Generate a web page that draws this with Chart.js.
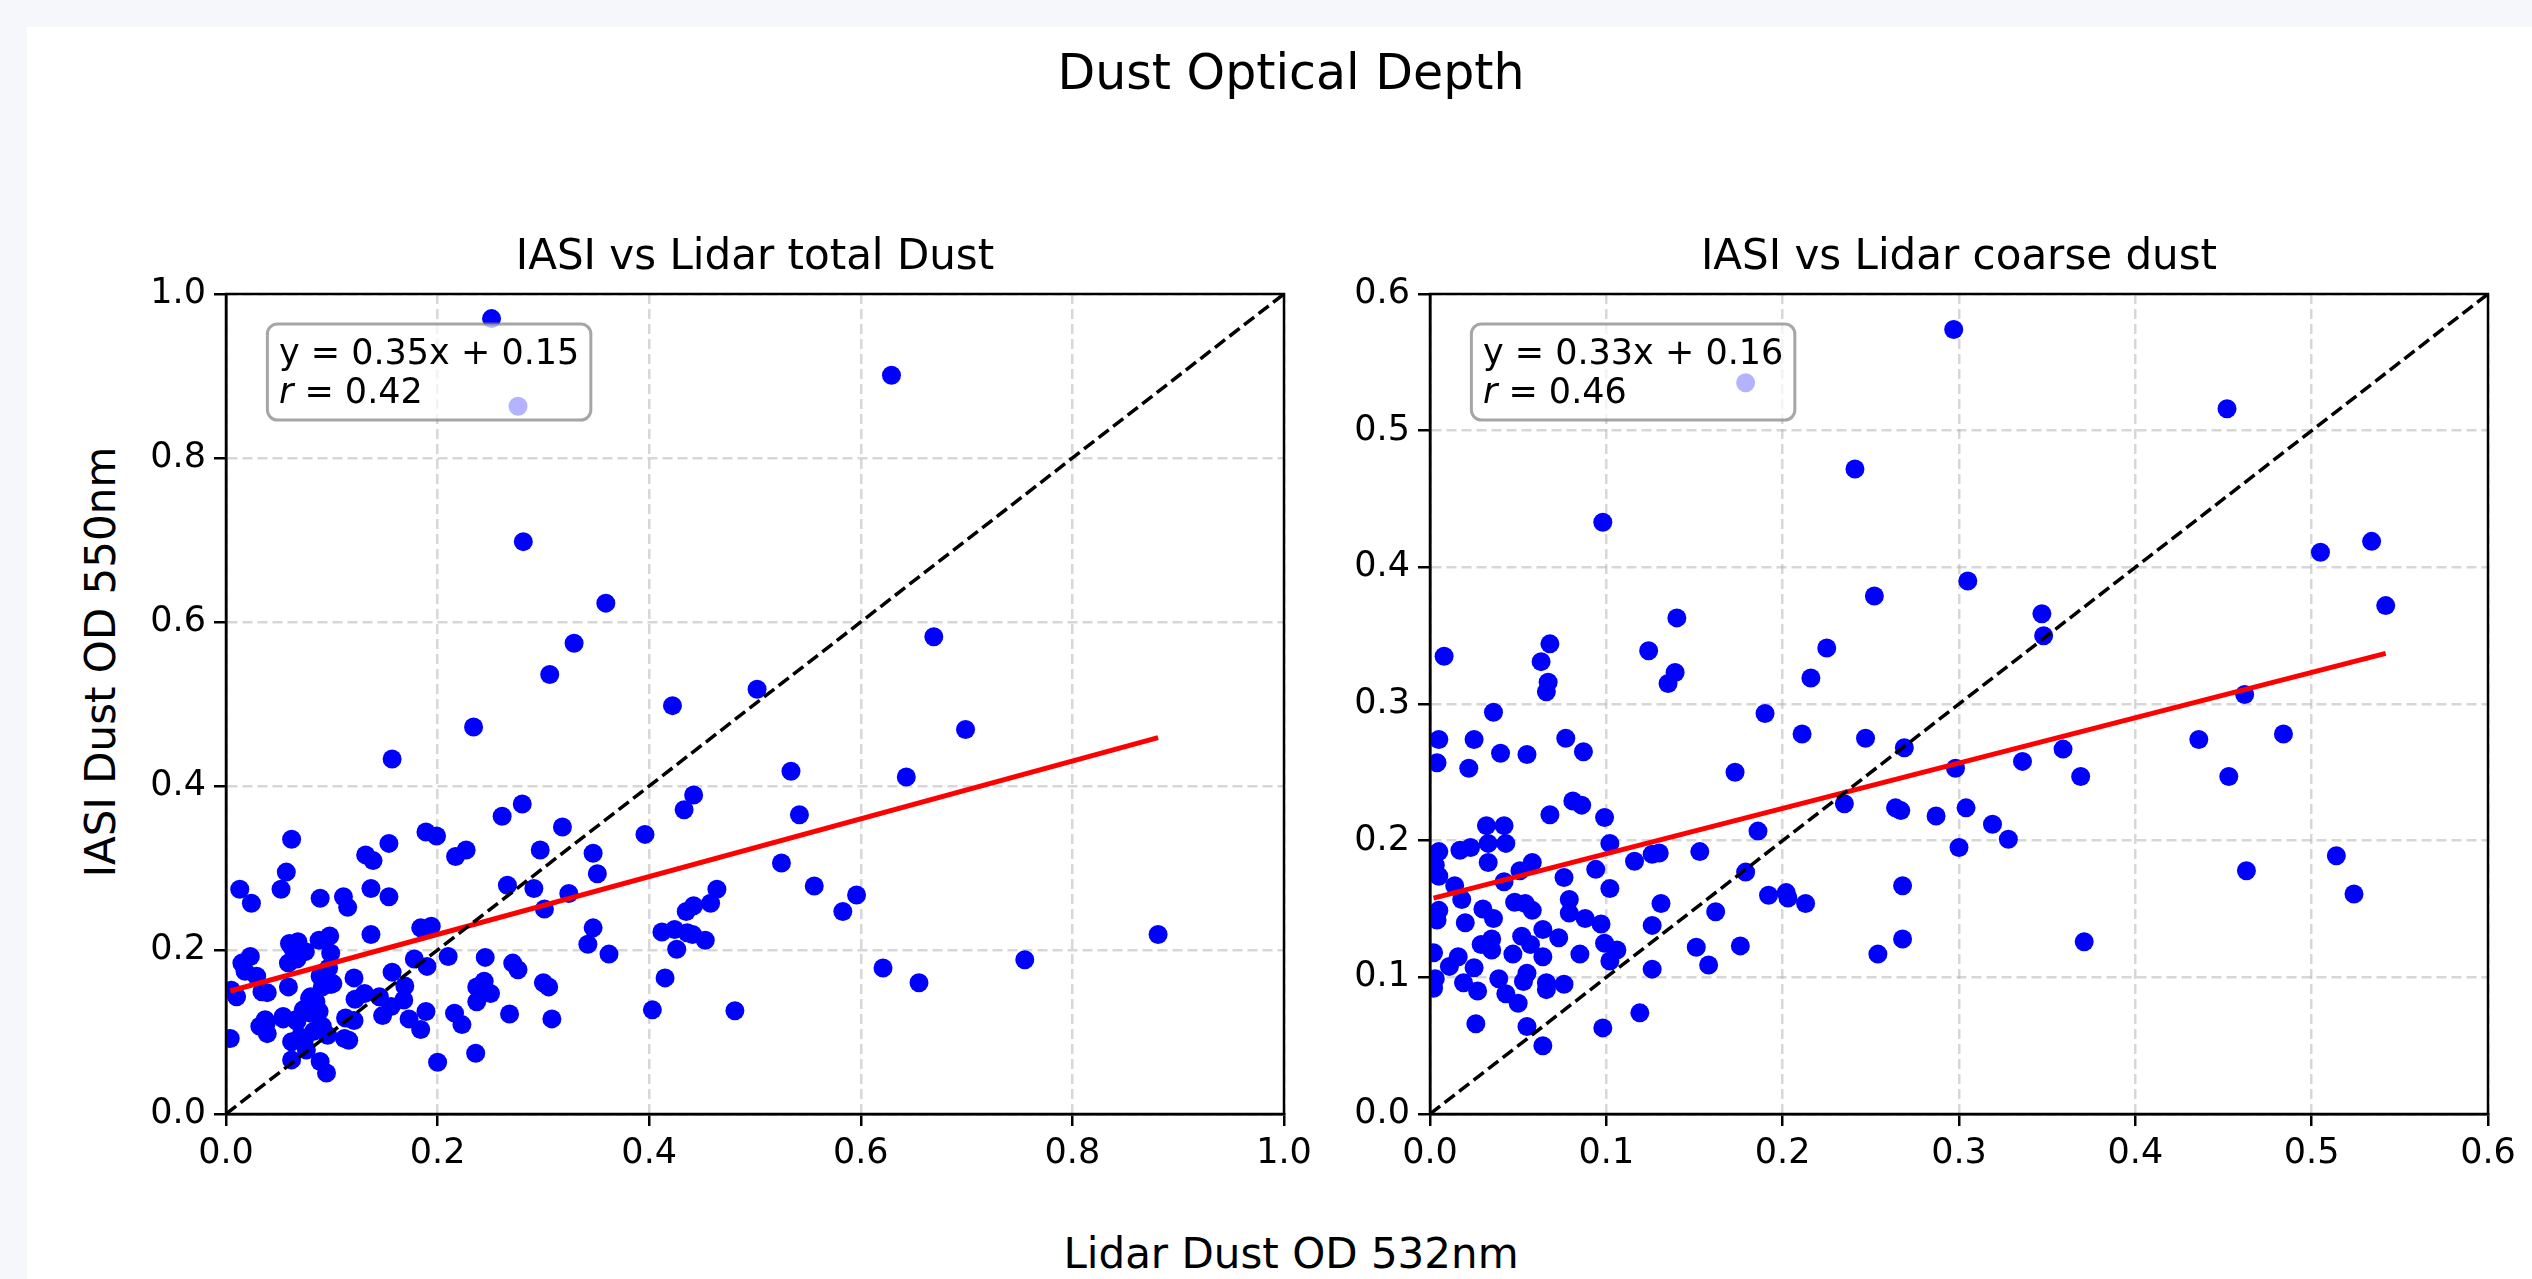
<!DOCTYPE html>
<html>
<head>
<meta charset="utf-8">
<title>Dust Optical Depth</title>
<script src="https://cdn.jsdelivr.net/npm/chart.js@4.4.1/dist/chart.umd.min.js"></script>
<style>
  html, body { margin: 0; padding: 0; }
  body {
    width: 2532px; height: 1279px; overflow: hidden; position: relative;
    background: #f5f7fb; font-family: "DejaVu Sans", sans-serif; color: #000;
  }
  .card { position: absolute; left: 27px; top: 27px; width: 2600px; height: 1400px; background: #fff; }
  .fig-text { position: absolute; white-space: nowrap; line-height: 1; }
  #suptitle { left: 1291px; top: 47.5px; font-size: 49px; transform: translateX(-50%); }
  #supxlabel { left: 1291px; top: 1232.5px; font-size: 42px; transform: translateX(-50%); }
  #supylabel { left: 101px; top: 662px; font-size: 42px; transform: translate(-50%, -50%) rotate(-90deg); }
  canvas { position: absolute; }
  #totalChart { left: 120px; top: 200px; }
  #coarseChart { left: 1324px; top: 200px; }
</style>
</head>
<body>
<div class="card"></div>
<div class="fig-text" id="suptitle">Dust Optical Depth</div>
<div class="fig-text" id="supxlabel">Lidar Dust OD 532nm</div>
<div class="fig-text" id="supylabel">IASI Dust OD 550nm</div>
<canvas id="totalChart" width="1200" height="1000"></canvas>
<canvas id="coarseChart" width="1208" height="1000"></canvas>
<script>
// Lidar total dust OD (x) vs IASI dust OD (y)
const totalX = [
  0.251, 0.276, 0.281, 0.359, 0.329, 0.306, 0.422, 0.502, 0.629, 0.669,
  0.699, 0.534, 0.643, 0.542, 0.525, 0.556, 0.596, 0.583, 0.881, 0.621,
  0.655, 0.755, 0.481,
  0.234, 0.157, 0.280, 0.261, 0.442, 0.433, 0.318, 0.396, 0.062, 0.154,
  0.189, 0.199, 0.132, 0.139, 0.217, 0.227, 0.297, 0.347, 0.351, 0.057,
  0.052, 0.013, 0.024, 0.089, 0.111, 0.115, 0.137, 0.154, 0.266, 0.291,
  0.301, 0.324, 0.464, 0.458, 0.442, 0.435, 0.347, 0.342, 0.362, 0.412,
  0.424, 0.436, 0.441, 0.453, 0.426, 0.415, 0.403, 0.137, 0.184, 0.194,
  0.210, 0.178, 0.190, 0.157, 0.169, 0.245, 0.271, 0.276, 0.244, 0.237,
  0.250, 0.237, 0.300, 0.305, 0.268, 0.308, 0.216, 0.223, 0.236, 0.200,
  0.189, 0.184, 0.173, 0.168, 0.148, 0.156, 0.145, 0.122, 0.131, 0.121,
  0.113, 0.121, 0.112, 0.116, 0.096, 0.089, 0.095, 0.076, 0.062, 0.062,
  0.070, 0.083, 0.067, 0.054, 0.080, 0.088, 0.073, 0.080, 0.085, 0.039,
  0.032, 0.037, 0.004, 0.039, 0.034, 0.010, 0.005, 0.059, 0.018, 0.029,
  0.015, 0.023, 0.059, 0.067, 0.062, 0.068, 0.075, 0.088, 0.098, 0.099,
  0.097, 0.089, 0.099, 0.091,
  0.074, 0.091, 0.085, 0.054, 0.038, 0.066, 0.060, 0.101, 0.079
];
const totalY = [
  0.970, 0.863, 0.698, 0.623, 0.574, 0.536, 0.498, 0.518, 0.901, 0.582,
  0.469, 0.418, 0.411, 0.365, 0.306, 0.278, 0.267, 0.247, 0.219, 0.178,
  0.160, 0.188, 0.126,
  0.472, 0.433, 0.378, 0.363, 0.389, 0.371, 0.350, 0.341, 0.335, 0.330,
  0.344, 0.339, 0.316, 0.309, 0.314, 0.322, 0.322, 0.318, 0.293, 0.295,
  0.274, 0.274, 0.257, 0.263, 0.265, 0.252, 0.275, 0.265, 0.279, 0.275,
  0.250, 0.269, 0.274, 0.257, 0.254, 0.247, 0.227, 0.207, 0.195, 0.222,
  0.225, 0.221, 0.219, 0.212, 0.201, 0.166, 0.127, 0.219, 0.227, 0.229,
  0.192, 0.189, 0.180, 0.173, 0.156, 0.191, 0.184, 0.176, 0.162, 0.155,
  0.147, 0.137, 0.160, 0.155, 0.122, 0.116, 0.123, 0.109, 0.074, 0.063,
  0.125, 0.103, 0.116, 0.139, 0.120, 0.131, 0.143, 0.140, 0.147, 0.166,
  0.117, 0.114, 0.092, 0.090, 0.096, 0.064, 0.050, 0.078, 0.066, 0.088,
  0.094, 0.101, 0.113, 0.116, 0.123, 0.125, 0.127, 0.143, 0.137, 0.098,
  0.107, 0.115, 0.092, 0.148, 0.149, 0.143, 0.151, 0.155, 0.174, 0.168,
  0.184, 0.192, 0.184, 0.189, 0.204, 0.210, 0.198, 0.212, 0.217, 0.196,
  0.178, 0.168, 0.158, 0.155,
  0.090, 0.107, 0.133, 0.119, 0.111, 0.115, 0.208, 0.159, 0.141
];

// Lidar coarse dust OD (x) vs IASI dust OD (y)
const coarseX = [
  0.179, 0.297, 0.241, 0.098, 0.252, 0.140, 0.008, 0.068, 0.063, 0.067,
  0.066, 0.124, 0.139, 0.135, 0.225, 0.216,
  0.452, 0.505, 0.534, 0.542, 0.305, 0.347, 0.348, 0.462,
  0.298, 0.336, 0.359, 0.369, 0.436, 0.484, 0.453, 0.304, 0.319, 0.328,
  0.300, 0.463, 0.514, 0.524, 0.371,
  0.036, 0.005, 0.025, 0.004, 0.022, 0.040, 0.055, 0.077, 0.087, 0.190,
  0.211, 0.247, 0.269, 0.173, 0.235, 0.264, 0.267, 0.287, 0.081, 0.086,
  0.068, 0.099, 0.102, 0.032, 0.042, 0.033, 0.043, 0.017, 0.023, 0.005,
  0.003, 0.005, 0.033, 0.051, 0.058, 0.042, 0.076, 0.094, 0.116, 0.126,
  0.130, 0.153, 0.186, 0.179, 0.102, 0.014, 0.018, 0.005, 0.004, 0.020,
  0.030, 0.036, 0.048, 0.054, 0.058, 0.079, 0.079, 0.088, 0.097, 0.131,
  0.126, 0.162, 0.192, 0.202, 0.203, 0.213, 0.268, 0.064, 0.073, 0.029,
  0.035, 0.035, 0.052, 0.057, 0.047, 0.002, 0.016, 0.011, 0.025, 0.064,
  0.085, 0.099, 0.106, 0.102, 0.126, 0.151, 0.176, 0.158, 0.254, 0.268,
  0.003, 0.002, 0.019, 0.027, 0.039, 0.043, 0.050, 0.053, 0.055, 0.066,
  0.066, 0.076, 0.026, 0.055, 0.064, 0.098, 0.119
];
const coarseY = [
  0.535, 0.574, 0.472, 0.433, 0.379, 0.363, 0.335, 0.344, 0.331, 0.316,
  0.309, 0.339, 0.323, 0.315, 0.341, 0.319,
  0.516, 0.411, 0.419, 0.372, 0.390, 0.366, 0.350, 0.307,
  0.253, 0.258, 0.267, 0.247, 0.274, 0.278, 0.247, 0.224, 0.212, 0.201,
  0.195, 0.178, 0.189, 0.161, 0.126,
  0.294, 0.274, 0.274, 0.257, 0.253, 0.264, 0.263, 0.275, 0.265, 0.293,
  0.278, 0.275, 0.268, 0.250, 0.227, 0.224, 0.222, 0.218, 0.229, 0.226,
  0.219, 0.217, 0.198, 0.211, 0.211, 0.198, 0.198, 0.193, 0.195, 0.192,
  0.182, 0.174, 0.184, 0.178, 0.184, 0.170, 0.173, 0.179, 0.185, 0.190,
  0.191, 0.192, 0.207, 0.177, 0.165, 0.167, 0.157, 0.149, 0.142, 0.140,
  0.150, 0.143, 0.155, 0.154, 0.149, 0.157, 0.147, 0.143, 0.139, 0.154,
  0.138, 0.148, 0.160, 0.162, 0.158, 0.154, 0.167, 0.135, 0.129, 0.124,
  0.128, 0.120, 0.130, 0.124, 0.117, 0.118, 0.115, 0.108, 0.107, 0.115,
  0.117, 0.125, 0.120, 0.112, 0.106, 0.122, 0.123, 0.109, 0.117, 0.128,
  0.099, 0.092, 0.096, 0.090, 0.099, 0.088, 0.081, 0.097, 0.103, 0.096,
  0.091, 0.095, 0.066, 0.064, 0.050, 0.063, 0.074
];

// fit line ends
const fitTotalX = [0.004, 0.881];
const fitTotalY = [0.150, 0.459];
const fitCoarseX = [0.002, 0.542];
const fitCoarseY = [0.158, 0.337];

const totalTicks = [0.0, 0.2, 0.4, 0.6, 0.8, 1.0];
const coarseTicks = [0.0, 0.1, 0.2, 0.3, 0.4, 0.5, 0.6];

const totalTitle = 'IASI vs Lidar total Dust';
const coarseTitle = 'IASI vs Lidar coarse dust';
const totalFit = ['y = 0.35x + 0.15', '0.42'];
const coarseFit = ['y = 0.33x + 0.16', '0.46'];

(function () {
  const FONT = '"DejaVu Sans", sans-serif';
  Chart.defaults.font.family = FONT;
  Chart.defaults.color = '#000';

  // spines on all four sides + the regression text box
  const statsBox = {
    id: 'statsBox',
    afterDatasetsDraw(chart, args, opts) {
      const { ctx, chartArea: a } = chart;
      ctx.save();
      ctx.strokeStyle = '#000';
      ctx.lineWidth = 2.5;
      ctx.strokeRect(a.left, a.top, a.width, a.height);

      ctx.font = '35px ' + FONT;
      const tx = a.left + 0.05 * a.width;
      const w = ctx.measureText(opts.equation).width;
      ctx.beginPath();
      ctx.roundRect(tx - 11.5, a.top + 30, w + 23, 96, 10);
      ctx.fillStyle = 'rgba(255,255,255,0.7)';
      ctx.fill();
      ctx.strokeStyle = 'rgba(128,128,128,0.7)';
      ctx.lineWidth = 3;
      ctx.stroke();

      ctx.fillStyle = '#000';
      ctx.textAlign = 'left';
      ctx.textBaseline = 'alphabetic';
      ctx.fillText(opts.equation, tx, a.top + 69.5);
      ctx.font = 'italic 35px ' + FONT;
      ctx.fillText('r', tx, a.top + 108.5);
      const rw = ctx.measureText('r').width;
      ctx.font = '35px ' + FONT;
      ctx.fillText(' = ' + opts.r, tx + rw, a.top + 108.5);
      ctx.restore();
    },
  };

  function makeScale(tickVals, horizontal) {
    return {
      type: 'linear',
      position: horizontal ? 'bottom' : 'left',
      min: tickVals[0],
      max: tickVals[tickVals.length - 1],
      afterBuildTicks: (s) => { s.ticks = tickVals.map((v) => ({ value: v })); },
      afterFit: (s) => { if (horizontal) s.height = 86; else s.width = 106; },
      grid: {
        color: 'rgba(176,176,176,0.5)',
        lineWidth: 2.5,
        borderDash: [10, 5],
        tickColor: '#000',
        tickWidth: 2.5,
        tickLength: 12,
        tickBorderDash: [],
      },
      border: { display: true, color: '#000', width: 2.5, dash: [10, 5] },
      ticks: {
        font: { size: 35 },
        color: '#000',
        padding: horizontal ? 7 : 8,
        maxRotation: 0,
        autoSkip: false,
        callback: (v) => Number(v).toFixed(1),
      },
    };
  }

  function makeChart(id, xs, ys, fitX, fitY, ticks, title, fit, padRight) {
    const pts = xs.map((x, i) => ({ x, y: ys[i] }));
    const lo = ticks[0], hi = ticks[ticks.length - 1];
    new Chart(document.getElementById(id), {
      type: 'scatter',
      data: {
        datasets: [
          {
            data: [{ x: lo, y: lo }, { x: hi, y: hi }],
            showLine: true, borderColor: '#000', borderWidth: 3.5,
            borderDash: [12.8, 5.6], pointRadius: 0, order: 0,
          },
          {
            data: fitX.map((x, i) => ({ x, y: fitY[i] })),
            showLine: true, borderColor: '#ff0000', borderWidth: 5,
            pointRadius: 0, order: 1,
          },
          {
            data: pts,
            backgroundColor: '#0000ff', borderWidth: 0,
            pointRadius: 9.5, pointHoverRadius: 9.5, order: 2,
          },
        ],
      },
      options: {
        responsive: false,
        animation: false,
        devicePixelRatio: 1,
        layout: { padding: { left: 0, right: padRight, top: 0, bottom: 0 } },
        scales: { x: makeScale(ticks, true), y: makeScale(ticks, false) },
        plugins: {
          legend: { display: false },
          tooltip: { enabled: false },
          title: {
            display: true, text: title, fullSize: false, color: '#000',
            font: { size: 42, weight: 'normal' },
            padding: { top: 33.3, bottom: 10.3 },
          },
          statsBox: { equation: fit[0], r: fit[1] },
        },
      },
      plugins: [statsBox],
    });
  }

  makeChart('totalChart', totalX, totalY, fitTotalX, fitTotalY, totalTicks, totalTitle, totalFit, 36);
  makeChart('coarseChart', coarseX, coarseY, fitCoarseX, fitCoarseY, coarseTicks, coarseTitle, coarseFit, 44);
})();
</script>
</body>
</html>
